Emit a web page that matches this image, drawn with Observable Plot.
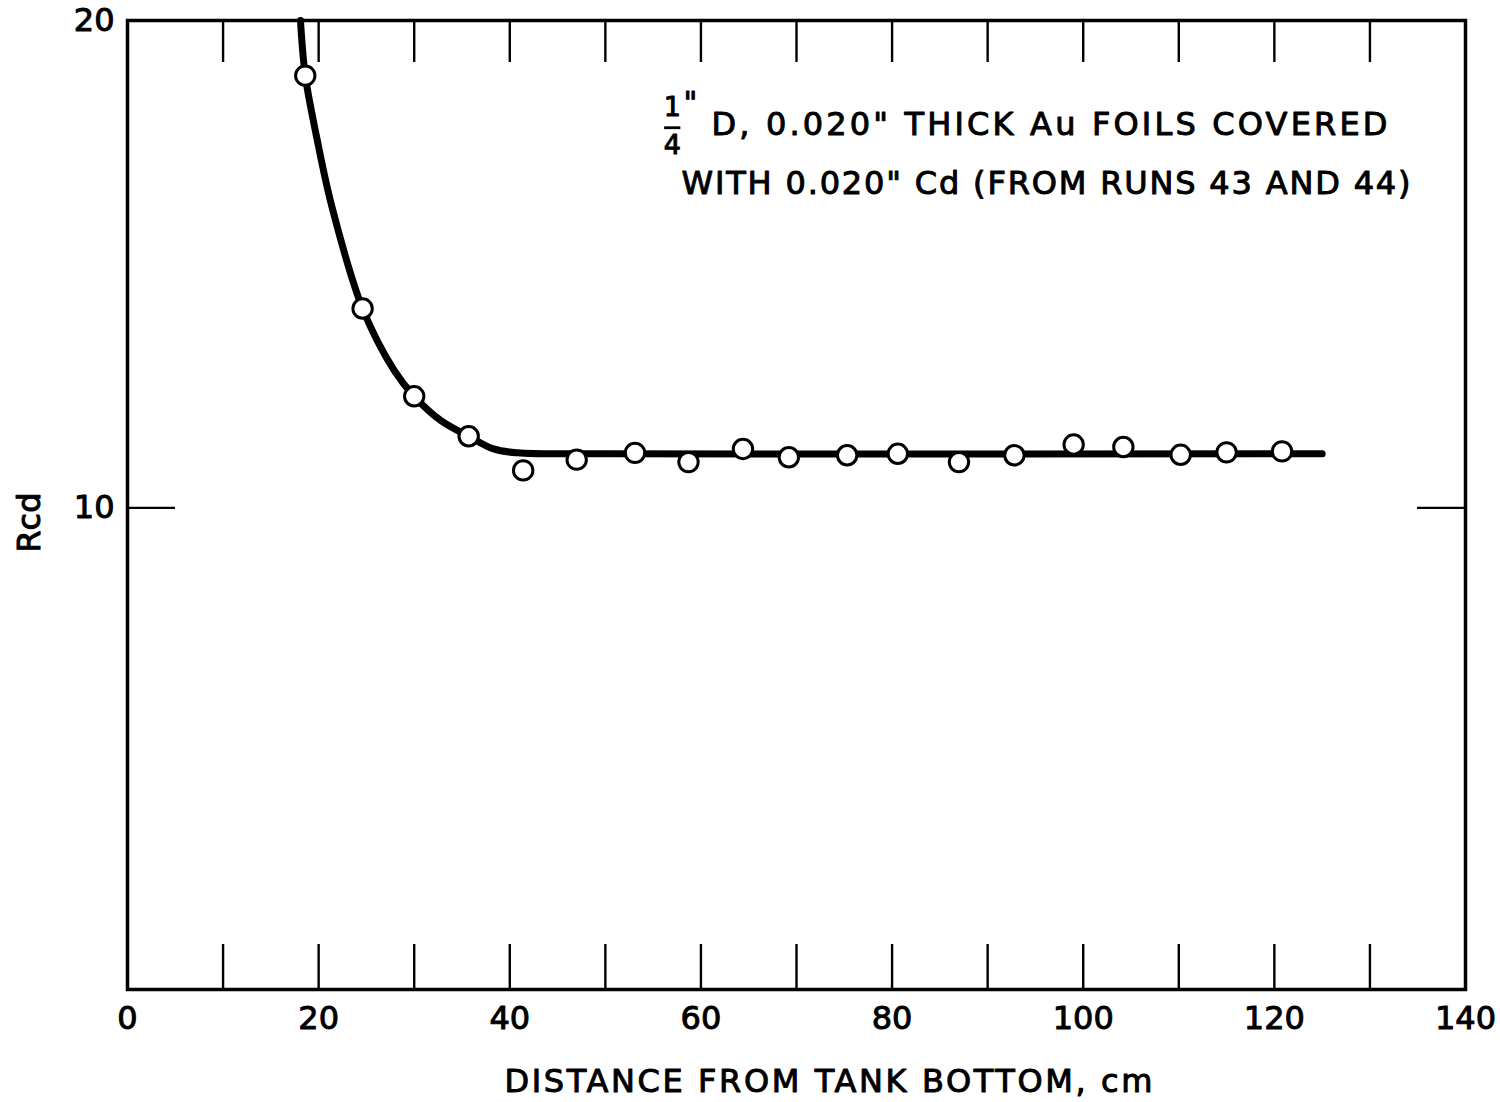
<!DOCTYPE html>
<html>
<head>
<meta charset="utf-8">
<script src="https://cdn.jsdelivr.net/npm/d3@7"></script>
<script src="https://cdn.jsdelivr.net/npm/@observablehq/plot@0.6"></script>
<style>
  html, body { margin: 0; padding: 0; background: #fff; }
  #chart svg { display: block; }
  /* lettering pen: regular face thickened by a thin outline */
  #chart svg text { stroke: #000; stroke-width: 1px; stroke-linejoin: round; }
</style>
</head>
<body>
<div id="chart"></div>
<script>
// Measured cadmium ratio along the tank (open circles)
const distance = [18.6, 24.6, 30.0, 35.7, 41.4, 47.0, 53.1, 58.7, 64.4, 69.2, 75.3, 80.6, 87.0, 92.8, 99.0, 104.2, 110.2, 115.0, 120.8];
const rcd      = [18.87, 14.09, 12.29, 11.47, 10.77, 10.99, 11.13, 10.94, 11.21, 11.04, 11.08, 11.11, 10.94, 11.08, 11.30, 11.25, 11.09, 11.14, 11.16];

// Hand-faired curve through the measurements
const fitDistance = [18.1, 18.6, 19.8, 21.4, 24.6, 27.9, 30.0, 32.8, 35.7, 38.3, 40.8, 50.0, 125.0];
const fitRcd      = [20.0, 18.87, 17.60, 16.17, 14.09, 12.82, 12.29, 11.79, 11.47, 11.21, 11.13, 11.11, 11.11];

// Axis ticks and labels
const xTicks  = [10, 20, 30, 40, 50, 60, 70, 80, 90, 100, 110, 120, 130];
const xLabels = [0, 20, 40, 60, 80, 100, 120, 140];
const yTicks  = [10];
const yLabels = [10, 20];

const xTitle = "DISTANCE FROM TANK BOTTOM, cm";
const yTitle = "Rcd";
const noteLine1 = "D, 0.020\" THICK Au FOILS COVERED";
const noteLine2 = "WITH 0.020\" Cd (FROM RUNS 43 AND 44)";

const points = distance.map((d, i) => ({distance: d, rcd: rcd[i]}));
const fit = fitDistance.map((d, i) => ({distance: d, rcd: fitRcd[i]}));

const W = 1500, H = 1102;
const mL = 127, mR = 35, mT = 20, mB = 113;
const innerW = W - mL - mR;
const innerH = H - mT - mB;

const ink = "#000";
const textStyle = {fill: ink, fontSize: 32};

const chart = Plot.plot({
  width: W,
  height: H,
  marginLeft: mL,
  marginRight: mR,
  marginTop: mT,
  marginBottom: mB,
  style: {fontFamily: "DejaVu Sans", background: "#fff", color: ink},
  x: {domain: [0, 140]},
  y: {domain: [0.12, 20]},
  marks: [
    // inward ticks on all four sides
    Plot.ruleX(xTicks, {stroke: ink, strokeWidth: 2.4, insetTop: innerH - 45}),
    Plot.ruleX(xTicks, {stroke: ink, strokeWidth: 2.4, insetBottom: innerH - 42}),
    Plot.ruleY(yTicks, {stroke: ink, strokeWidth: 2.4, insetRight: innerW - 48}),
    Plot.ruleY(yTicks, {stroke: ink, strokeWidth: 2.4, insetLeft: innerW - 48}),
    Plot.frame({stroke: ink, strokeWidth: 3.5}),

    // tick labels
    Plot.axisX({ticks: xLabels, tickSize: 0, tickPadding: 17, label: null, ...textStyle}),
    Plot.axisY({ticks: yLabels, tickSize: 0, tickPadding: 13, label: null, ...textStyle}),

    // axis titles
    Plot.text([xTitle], {frameAnchor: "bottom", dx: 32, dy: 92, lineAnchor: "middle", className: "x-title", ...textStyle}),
    Plot.text([yTitle], {frameAnchor: "left", y: 9.7, dx: -98, rotate: -90, textAnchor: "middle", lineAnchor: "middle", ...textStyle}),

    // faired curve and measurements
    Plot.line(fit, {x: "distance", y: "rcd", curve: "catmull-rom", stroke: ink, strokeWidth: 7}),
    Plot.dot(points, {x: "distance", y: "rcd", r: 9.7, fill: "#fff", stroke: ink, strokeWidth: 3}),

    // note: 1/4" D, ...
    Plot.text(["1"], {x: 57.0, y: 18.21, lineAnchor: "middle", ...textStyle, fontSize: 27}),
    Plot.ruleY([17.8], {x1: 56.2, x2: 57.9, stroke: ink, strokeWidth: 2.8}),
    Plot.text(["4"], {x: 57.0, y: 17.44, lineAnchor: "middle", ...textStyle, fontSize: 27}),
    Plot.text(["\""], {x: 58.9, y: 18.30, lineAnchor: "middle", ...textStyle, fontSize: 30}),
    Plot.text([noteLine1], {x: 61.1, y: 17.87, textAnchor: "start", lineAnchor: "middle", className: "note-1", ...textStyle}),
    Plot.text([noteLine2], {x: 57.97, y: 16.66, textAnchor: "start", lineAnchor: "middle", className: "note-2", ...textStyle})
  ]
});

// stretch the lettered lines to their drawn widths
const svg = d3.select(chart);
svg.selectAll(".note-1 text").attr("textLength", 676).attr("lengthAdjust", "spacing");
svg.selectAll(".note-2 text").attr("textLength", 729).attr("lengthAdjust", "spacing");
svg.selectAll(".x-title text").attr("textLength", 648).attr("lengthAdjust", "spacing");

document.getElementById("chart").appendChild(chart);
</script>
</body>
</html>
